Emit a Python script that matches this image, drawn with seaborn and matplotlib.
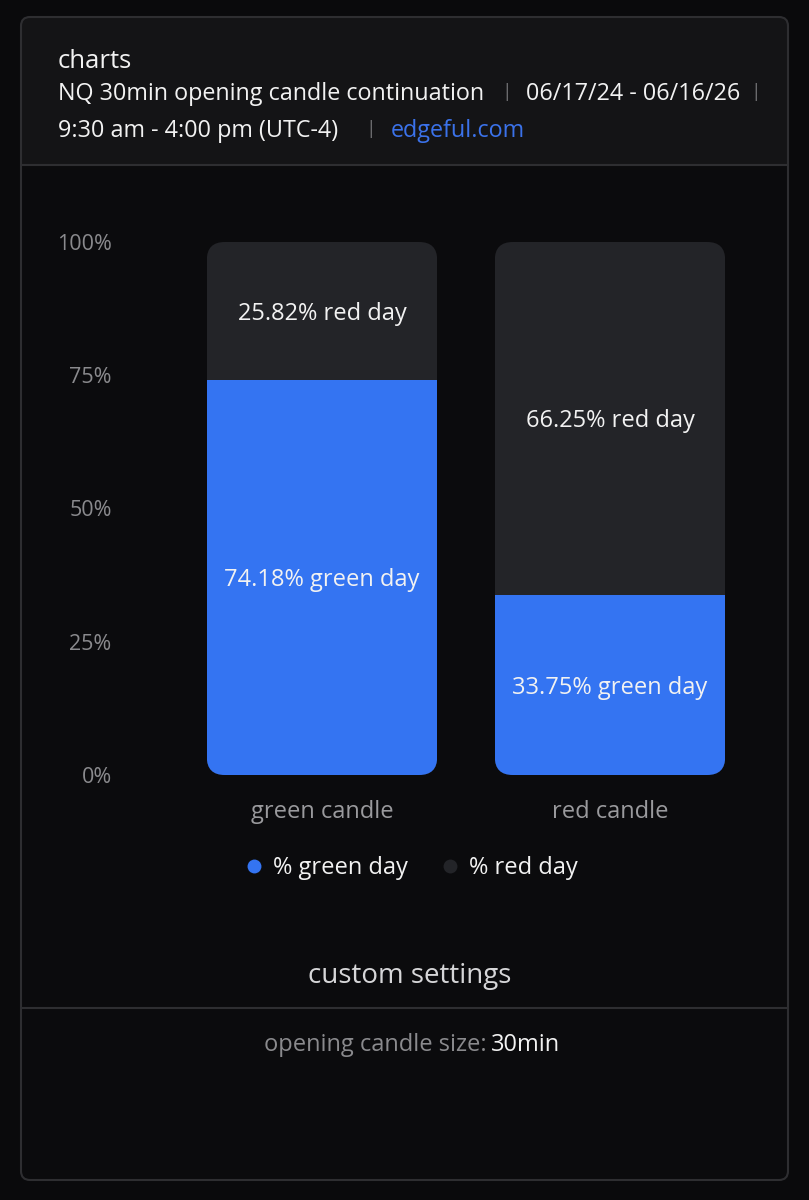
import matplotlib
matplotlib.use("Agg")
import matplotlib.pyplot as plt
from matplotlib.patches import FancyBboxPatch, Rectangle
from matplotlib.lines import Line2D
import seaborn as sns
import pandas as pd

# ---- data ----
categories = ["green candle", "red candle"]
pct_green_day = [74.18, 33.75]
pct_red_day = [25.82, 66.25]
yticks = [0, 25, 50, 75, 100]
ytick_labels = ["0%", "25%", "50%", "75%", "100%"]
legend_labels = ["% green day", "% red day"]

title = "charts"
subtitle_parts = ["NQ 30min opening candle continuation", "06/17/24 - 06/16/26"]
session = "9:30 am - 4:00 pm (UTC-4)"
site = "edgeful.com"
settings_title = "custom settings"
settings_key = "opening candle size:"
settings_val = "30min"

# ---- style ----
FONT = ["Open Sans", "DejaVu Sans"]
PAGE = "#0a0a0c"
BODY = "#0b0b0d"
HEAD = "#141416"
BORDER = "#2e2e31"
BLUE = "#3474f2"
DARK = "#232428"
WHITE = "#f2f2f2"
GREY = "#8a8a8d"
SEP = "#6a6a6d"

sns.set_theme(style="dark")
plt.rcParams["font.family"] = FONT

W, H = 809, 1200
fig = plt.figure(figsize=(W / 100, H / 100), dpi=100, facecolor=PAGE)

# background axes in pixel coordinates
bg = fig.add_axes([0, 0, 1, 1], zorder=0)
bg.set_xlim(0, W)
bg.set_ylim(H, 0)
bg.axis("off")
bg.set_facecolor(PAGE)

L, R, T, B = 21, 788, 17, 1180
bg.add_patch(FancyBboxPatch((L, T), R - L, B - T, boxstyle="round,pad=0,rounding_size=9",
                            facecolor=BODY, edgecolor="none"))
bg.add_patch(FancyBboxPatch((L, T), R - L, 190 - T, boxstyle="round,pad=0,rounding_size=9",
                            facecolor=HEAD, edgecolor="none"))
bg.add_patch(Rectangle((L, 165), R - L, 40, facecolor=BODY, edgecolor="none"))
bg.plot([L, R], [165, 165], color=BORDER, lw=1.5)
bg.plot([L, R], [1008, 1008], color=BORDER, lw=1.5)
bg.add_patch(FancyBboxPatch((L, T), R - L, B - T, boxstyle="round,pad=0,rounding_size=9",
                            facecolor="none", edgecolor=BORDER, lw=1.5))

# header text
HS = 16.8
bg.text(58, 61, title, color=WHITE, fontsize=18.5, va="center", ha="left")
bg.text(58, 94, subtitle_parts[0], color=WHITE, fontsize=HS, va="center", ha="left")
bg.text(507, 92, "|", color=SEP, fontsize=14, va="center", ha="center")
bg.text(526, 94, subtitle_parts[1], color=WHITE, fontsize=HS, va="center", ha="left")
bg.text(756, 92, "|", color=SEP, fontsize=14, va="center", ha="center")
bg.text(58, 131, session, color=WHITE, fontsize=HS, va="center", ha="left")
bg.text(371, 129, "|", color=SEP, fontsize=14, va="center", ha="center")
bg.text(391, 131, site, color="#3b72ea", fontsize=HS, va="center", ha="left")

# footer text
bg.text(410, 976, settings_title, color="#d6d6d8", fontsize=20, va="center", ha="center")
bg.text(487, 1045, settings_key, color=GREY, fontsize=17, va="center", ha="right")
bg.text(491, 1045, settings_val, color=WHITE, fontsize=17, va="center", ha="left")

# ---- chart axes ----
ax_l, ax_r, ax_top, ax_bot = 120, 782, 242, 775
ax = fig.add_axes([ax_l / W, 1 - ax_bot / H, (ax_r - ax_l) / W, (ax_bot - ax_top) / H], zorder=2)
ax.patch.set_alpha(0)

totals = [g + r for g, r in zip(pct_green_day, pct_red_day)]
df = pd.DataFrame({"candle": categories, "green": pct_green_day, "total": totals})

sns.barplot(data=df, x="candle", y="total", color=DARK, saturation=1, width=0.8, ax=ax)
sns.barplot(data=df, x="candle", y="green", color=BLUE, saturation=1, width=0.8, ax=ax)

c0, bar_px = 322, 288
xlo = (ax_l - c0) / bar_px
xhi = (ax_r - c0) / bar_px
ax.set_xlim(xlo, xhi)
ax.set_ylim(0, 100)

# rounded clipping of bars
px_per_x = (ax_r - ax_l) / (xhi - xlo)
px_per_y = (ax_bot - ax_top) / 100
rad_px = 18
r_x = rad_px / px_per_x
m_aspect = (rad_px / px_per_y) / r_x
n = len(categories)
clips = []
for i in range(n):
    clip = FancyBboxPatch((i - 0.4, 0), 0.8, totals[i],
                          boxstyle=f"round,pad=0,rounding_size={r_x}",
                          mutation_aspect=m_aspect, transform=ax.transData)
    clips.append(clip)
for k, p in enumerate(ax.patches):
    p.set_edgecolor("none")
    p.set_clip_path(clips[k % n])

for i in range(n):
    g, r = pct_green_day[i], pct_red_day[i]
    ax.annotate(f"{g:.2f}% green day", (i, g / 2), xytext=(0, -2), textcoords="offset points",
                color=WHITE, fontsize=17, ha="center", va="center")
    ax.annotate(f"{r:.2f}% red day", (i, g + r / 2), xytext=(0, -2), textcoords="offset points",
                color=WHITE, fontsize=17, ha="center", va="center")

ax.set_yticks(yticks)
ax.set_yticklabels(ytick_labels)
ax.tick_params(axis="y", length=0, pad=6, labelsize=15.5, labelcolor=GREY)
ax.tick_params(axis="x", length=0, pad=18, labelsize=17, labelcolor="#9a9a9d")
ax.set_xlabel("")
ax.set_ylabel("")
ax.grid(False)
for s in ax.spines.values():
    s.set_visible(False)

handles = [Line2D([], [], marker="o", linestyle="none", markersize=10,
                  markerfacecolor=BLUE, markeredgecolor="none"),
           Line2D([], [], marker="o", linestyle="none", markersize=10,
                  markerfacecolor=DARK, markeredgecolor="none")]
leg = fig.legend(handles, legend_labels, loc="center", bbox_to_anchor=(410 / W, 1 - 868 / H),
                 ncol=2, frameon=False, fontsize=17, handletextpad=0.3, columnspacing=1.3,
                 handlelength=1.0)
for t in leg.get_texts():
    t.set_color(WHITE)

fig.savefig("out.png", dpi=100, facecolor=PAGE)
